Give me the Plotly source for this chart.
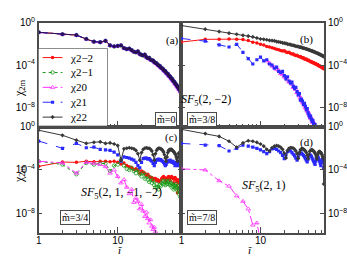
import plotly.graph_objects as go

W, H = 347, 257

# ---------------- data: log10(chi_2m) versus i = 1, 2, 3, ... ----------------
# panel (a), m~=0 : all components coincide
a_all = [-0.92,-1.10,-1.18,-1.55,-1.80,-1.85,-1.72,-2.15,-2.25,-2.20,-2.15,-2.40,-2.50,-2.45,-2.60,-2.75,
         -2.80,-2.72,-2.95,-3.05,-3.10,-3.02,-3.25,-3.35,-3.33,-3.50,-3.55,-3.58,-3.72,-3.80,-3.84,-3.97,
         -4.05,-4.08,-4.22,-4.30,-4.33,-4.47,-4.55,-4.58,-4.72,-4.80,-4.83,-4.97,-5.05,-5.08,-5.22,-5.30,
         -5.33,-5.47,-5.55,-5.58,-5.72,-5.80,-5.83,-5.97,-6.05,-6.08,-6.22,-6.30,-6.33,-6.47,-6.55]

# panel (b), m~=3/8, SF5(2,-2)
b_m2 = [-1.83,-1.58,-1.57,-1.55,-1.56,-1.60,-1.70,-1.85,-1.92,-2.05,-2.12,-2.25,-2.30,-2.38,-2.45,-2.52,
        -2.55,-2.62,-2.68,-2.66,-2.78,-2.82,-2.80,-2.92,-2.97,-2.95,-3.06,-3.10,-3.08,-3.18,-3.22,-3.20,
        -3.30,-3.34,-3.32,-3.42,-3.46,-3.44,-3.53,-3.57,-3.55,-3.64,-3.68,-3.66,-3.75,-3.78,-3.76,-3.85,
        -3.88,-3.86,-3.95,-3.98,-3.96,-4.05,-4.08,-4.06,-4.14,-4.17,-4.15,-4.24,-4.27,-4.25,-4.34]
b_p1 = [-1.50,-1.75,-2.10,-2.30,-2.05,-2.80,-3.40,-3.90,-3.50,-3.25,-3.60,-3.50,-3.90,-4.00,-4.30,-4.20,
        -4.60,-4.70,-4.60,-5.00,-5.30,-5.10,-5.50,-5.70,-5.60,-6.00,-6.20,-6.10,-6.50,-6.80,-6.70,-7.30,
        -7.20,-7.40,-7.70,-7.60,-7.90,-8.20,-8.10,-8.50,-8.70,-8.90,-8.80,-9.10,-9.30,-9.20,-9.50,-9.70,
        -9.60,-9.90,-10.10]
b_p2 = [-0.28,-0.62,-0.85,-1.00,-1.10,-1.20,-1.27,-1.35,-1.45,-1.55,-1.58,-1.62,-1.68,-1.70,-1.72,-1.79,
        -1.82,-1.85,-1.91,-1.94,-1.96,-2.03,-2.05,-2.07,-2.13,-2.15,-2.17,-2.23,-2.24,-2.26,-2.31,-2.32,
        -2.34,-2.39,-2.40,-2.42,-2.47,-2.48,-2.51,-2.55,-2.57,-2.59,-2.63,-2.66,-2.67,-2.72,-2.74,-2.75,
        -2.81,-2.82,-2.84,-2.89,-2.90,-2.93,-2.97,-2.99,-3.01,-3.05,-3.08,-3.09,-3.14,-3.16,-3.20]
b_0_start = 12
b_0 = [-3.60,-3.80,-4.10,-4.20,-4.40,-4.50,-4.80,-4.90,-5.10,-5.20,-5.40,-5.60,-5.60,-5.80,-6.10,-6.10,
       -6.30,-6.60,-6.60,-6.90,-7.10,-7.30,-7.50,-7.60,-7.80,-8.00,-8.10,-8.30,-8.40,-8.60,-8.80,-9.00,
       -9.00,-9.20,-9.40,-9.40,-9.60,-9.80,-10.00]

# panel (c), m~=3/4, SF5(2,1,-1,-2)
c_m2 = [-3.67,-3.27,-3.30,-3.20,-3.25,-3.20,-3.20,-3.25,-3.20,-3.30,-3.45,-3.35,-3.60,-3.70,-3.80,-3.95,
        -3.90,-4.00,-4.30,-4.10,-4.20,-4.30,-4.50,-4.40,-4.60,-4.70,-4.70,-4.90,-4.80,-4.80,-5.00,-4.90,
        -5.10,-5.00,-5.00,-4.80,-4.70,-4.60,-4.70,-4.90,-5.10,-4.80,-4.70,-4.60,-4.80,-5.00,-4.70,-4.60,
        -4.70,-4.80,-5.20,-4.80,-4.70,-4.80,-4.90,-5.10,-6.10,-4.90,-5.00,-5.20,-5.70,-5.30,-6.00]
c_m1 = [-3.20,-3.50,-4.40,-3.35,-3.50,-3.40,-3.40,-4.10,-3.60,-3.50,-3.05,-3.60,-3.90,-4.00,-3.80,-4.10,
        -4.30,-4.00,-4.40,-4.60,-4.30,-4.80,-4.50,-4.90,-5.10,-4.70,-5.20,-5.00,-5.40,-5.60,-5.30,-5.60,
        -5.80,-5.40,-5.50,-5.20,-5.00,-5.30,-5.10,-5.40,-5.00,-5.30,-5.10,-5.30,-5.00,-5.40,-5.20,-5.60,
        -5.30,-5.50,-5.80,-5.40,-5.50,-5.70,-5.30,-5.60,-5.90,-5.50,-6.20,-5.70,-6.00,-6.50,-5.80]
c_0 = [-3.20,-3.35,-4.30,-3.30,-3.40,-3.50,-3.70,-4.30,-4.00,-4.60,-5.20,-4.90,-5.60,-6.20,-5.80,-7.00,
       -6.60,-6.90,-7.60,-7.20,-7.80,-8.30,-7.90,-8.50,-8.90,-8.60,-9.20,-9.50,-9.30,-9.70,-10.20]
c_p1 = [-1.33,-2.00,-1.55,-1.95,-1.90,-2.10,-2.15,-2.20,-2.35,-2.60,-3.20,-2.80,-2.85,-2.90,-3.00,-3.10,
        -3.30,-3.60,-3.80,-3.30,-2.95,-2.90,-2.90,-3.00,-2.95,-3.10,-3.20,-3.40,-3.60,-3.30,-3.10,-3.05,
        -3.00,-3.10,-3.05,-3.15,-3.20,-3.30,-3.45,-3.60,-3.50,-3.30,-3.20,-3.15,-3.20,-3.10,-3.25,-3.20,
        -3.30,-3.20,-3.35,-3.40,-3.60,-3.50,-3.30,-3.40,-3.60,-3.30,-3.25,-3.20,-3.30,-3.20,-3.25]
c_p2 = [-0.33,-0.80,-1.25,-1.55,-1.45,-1.40,-1.55,-1.50,-1.60,-1.75,-3.10,-2.05,-2.00,-1.95,-2.00,-2.05,
        -2.20,-2.50,-3.10,-2.40,-2.10,-2.00,-1.95,-2.00,-2.00,-2.10,-2.25,-2.60,-3.10,-2.50,-2.20,-2.05,
        -2.00,-2.00,-2.05,-2.10,-2.20,-2.35,-2.60,-2.90,-3.20,-2.80,-2.40,-2.20,-2.15,-2.10,-2.15,-2.10,
        -2.20,-2.25,-2.30,-2.40,-2.50,-2.60,-2.80,-3.00,-3.20,-2.80,-2.50,-2.40,-2.40,-2.50,-2.60]

# panel (d), m~=7/8, SF5(2,1)
d_0 = [-3.90,-4.00,-5.00,-5.50,-6.40,-6.90,-7.60,-9.10,-8.90,-10.50]
d_p1 = [-1.55,-1.70,-1.75,-2.25,-2.00,-1.70,-1.80,-1.90,-2.00,-2.15,-2.30,-2.50,-2.30,-2.05,-2.00,-2.10,
        -2.25,-2.40,-2.65,-2.95,-2.60,-2.30,-2.20,-2.25,-2.40,-2.55,-2.70,-2.90,-3.10,-2.85,-2.55,-2.45,
        -2.45,-2.55,-2.65,-2.80,-2.95,-3.10,-3.25,-3.00,-2.70,-2.60,-2.65,-2.75,-2.90,-3.05,-3.20,-3.35,
        -3.50,-3.20,-2.90,-2.80,-2.80,-2.90,-3.05,-3.20,-3.40,-3.60,-3.30,-3.10,-3.00,-3.20,-3.80]
d_p2 = [-0.25,-0.64,-0.90,-1.35,-1.90,-1.50,-1.30,-1.35,-1.45,-1.60,-1.80,-2.10,-2.25,-1.95,-1.80,-1.75,
        -1.80,-1.90,-2.10,-2.45,-2.90,-2.20,-2.00,-1.95,-1.95,-2.00,-2.10,-2.25,-2.50,-2.95,-2.40,-2.15,
        -2.05,-2.05,-2.10,-2.15,-2.25,-2.40,-2.65,-2.95,-2.60,-2.30,-2.20,-2.15,-2.15,-2.20,-2.25,-2.35,
        -2.45,-2.60,-2.80,-3.00,-2.60,-2.40,-2.30,-2.30,-2.35,-2.40,-2.50,-2.60,-2.75,-2.90,-5.30]

series_names = ["χ2−2", "χ2−1", "χ20", "χ21", "χ22"]
series_colors = ["#ff1010", "#1a9a1a", "#ff30ff", "#2a2aff", "#383838"]
series_dash = ["solid", "dot", "dashdot", "dash", "solid"]
series_symbol = ["circle", "circle-open", "triangle-up-open", "square", "diamond"]
series_size = [3.5, 3.5, 4, 3.2, 3.2]
series_mline = [0, 0.8, 0.8, 0, 0]

panel_labels = ["(a)", "(b)", "(c)", "(d)"]
m_labels = ["m̃=0", "m̃=3/8", "m̃=3/4", "m̃=7/8"]
sf_labels = ["", "<i>SF</i><sub>5</sub>(2, −2)", "<i>SF</i><sub>5</sub>(2, 1, −1, −2)",
             "<i>SF</i><sub>5</sub>(2, 1)"]

x_tick_vals = [1, 10]
x_tick_text = ["1", "10"]
x_minor_vals = [2, 3, 4, 5, 6, 7, 8, 9, 20, 30, 40, 50, 60]
y_tick_vals = [1, 1e-4, 1e-8]
y_tick_text = ["10<sup>0</sup>", "10<sup>−4</sup>", "10<sup>−8</sup>"]

# panel -> list of (series index, first i, log10 values)
panels = [
    [(0, 1, a_all), (1, 1, a_all), (2, 1, a_all), (3, 1, a_all), (4, 1, a_all)],
    [(0, 1, b_m2), (2, b_0_start, b_0), (3, 1, b_p1), (4, 1, b_p2)],
    [(0, 1, c_m2), (1, 1, c_m1), (2, 1, c_0), (3, 1, c_p1), (4, 1, c_p2)],
    [(2, 1, d_0), (3, 1, d_p1), (4, 1, d_p2)],
]

# ---------------- layout geometry (pixels) ----------------
def px(x):
    return x / W

def py(y):
    return 1 - y / H

X_L, X_M, X_R = 36, 180, 324
Y_T, Y_M, Y_B = 16, 123, 232
x_dom = [[px(X_L), px(X_M)], [px(X_M), px(X_R)]]
y_dom = [[py(Y_M), py(Y_T)], [py(Y_B), py(Y_M)]]

SERIF = "Liberation Serif, DejaVu Serif, serif"
SANS = "Liberation Sans, Arial, sans-serif"
FRAME = "#4a4a4a"

fig = go.Figure()

for p, tr_list in enumerate(panels):
    ax = "" if p == 0 else str(p + 1)
    for s, start, vals in tr_list:
        xs = [start + k for k in range(len(vals))]
        ys = [10 ** v for v in vals]
        col = series_colors[s]
        if p == 0 and s == 4:
            col = "#2a1050"  # blended dark indigo where all curves coincide
        fig.add_trace(go.Scatter(
            x=xs, y=ys, xaxis="x" + ax, yaxis="y" + ax, mode="lines+markers",
            showlegend=False, name=series_names[s],
            line=dict(color=col, width=1, dash=series_dash[s]),
            marker=dict(symbol=series_symbol[s], size=series_size[s], color=col,
                        line=dict(width=series_mline[s], color=col)),
        ))

layout = dict(width=W, height=H, autosize=False, margin=dict(l=0, r=0, t=0, b=0),
              paper_bgcolor="white", plot_bgcolor="white", showlegend=False)

for p in range(4):
    col, row = p % 2, p // 2
    ax = "" if p == 0 else str(p + 1)
    layout["xaxis" + ax] = dict(
        type="log", range=[0, 1.806], domain=x_dom[col], anchor="y" + ax,
        showline=True, linecolor=FRAME, linewidth=1.5, mirror=True,
        ticks="inside", ticklen=6, tickwidth=1, tickcolor=FRAME,
        tickmode="array", tickvals=x_tick_vals,
        ticktext=x_tick_text if row == 1 else ["", ""],
        showticklabels=(row == 1), ticklabelstandoff=-2,
        minor=dict(tickmode="array", tickvals=x_minor_vals, ticks="inside", ticklen=3,
                   tickcolor=FRAME, tickwidth=1),
        showgrid=False, zeroline=False,
        tickfont=dict(family=SANS, size=10, color="black"),
    )
    layout["yaxis" + ax] = dict(
        type="log", range=[-9.8, 0], domain=y_dom[row], anchor="x" + ax,
        side="left" if col == 0 else "right",
        showline=True, linecolor=FRAME, linewidth=1.5, mirror="ticks",
        ticks="inside", ticklen=4, tickwidth=1, tickcolor=FRAME,
        tickmode="array", tickvals=y_tick_vals, ticktext=y_tick_text,
        showgrid=False, zeroline=False,
        tickfont=dict(family=SANS, size=10, color="black"),
    )

annotations = []
shapes = []
lab_pos = [(171, 26), (315, 25), (170, 134), (315, 139)]
for p in range(4):
    annotations.append(dict(text=panel_labels[p], x=px(lab_pos[p][0]), y=py(lab_pos[p][1]),
                            xref="paper", yref="paper", showarrow=False,
                            font=dict(family=SERIF, size=11, color="black")))
m_pos = [(164.5, 115.5), (201, 115.5), (57, 224.5), (201, 224.5)]
for p in range(4):
    annotations.append(dict(text=m_labels[p], x=px(m_pos[p][0]), y=py(m_pos[p][1]),
                            xref="paper", yref="paper", showarrow=False,
                            bordercolor=FRAME, borderwidth=1, borderpad=1, bgcolor="white",
                            font=dict(family=SERIF, size=10, color="black")))
sf_pos = [(0, 0), (232, 85), (77, 202), (287, 194)]
for p in range(1, 4):
    annotations.append(dict(text=sf_labels[p], x=px(sf_pos[p][0]), y=py(sf_pos[p][1]),
                            xref="paper", yref="paper", showarrow=False,
                            font=dict(family=SERIF, size=12, color="black")))
# axis titles
for yy in (72, 183):
    annotations.append(dict(text="χ<sub>2m</sub>", x=px(7), y=py(yy), xref="paper", yref="paper",
                            showarrow=False, textangle=-90,
                            font=dict(family=SERIF, size=12, color="black")))
for xx in (115, 253):
    annotations.append(dict(text="<i>ĩ</i>", x=px(xx), y=py(256.5), xref="paper", yref="paper",
                            yanchor="bottom", showarrow=False, borderpad=0, height=10,
                            valign="bottom",
                            font=dict(family=SERIF, size=11, color="black")))

# ---------------- legend (drawn in its own small axes) ----------------
LEG = (36, 105, 43, 122)
shapes.append(dict(type="rect", xref="paper", yref="paper", x0=px(LEG[0]), x1=px(LEG[1]),
                   y0=py(LEG[3]), y1=py(LEG[2]), line=dict(color=FRAME, width=1.2),
                   fillcolor="white", layer="below"))
layout["xaxis5"] = dict(domain=[px(LEG[0]), px(LEG[1])], range=[0, LEG[1] - LEG[0]], visible=False,
                        anchor="y5", fixedrange=True)
layout["yaxis5"] = dict(domain=[py(LEG[3]), py(LEG[2])], range=[LEG[3] - LEG[2], 0], visible=False,
                        anchor="x5", fixedrange=True)
for s in range(5):
    yc = 9 + 15.3 * s
    fig.add_trace(go.Scatter(x=[4, 24], y=[yc, yc], xaxis="x5", yaxis="y5", mode="lines",
                             showlegend=False, hoverinfo="skip",
                             line=dict(color=series_colors[s], width=1, dash=series_dash[s])))
    fig.add_trace(go.Scatter(x=[14], y=[yc], xaxis="x5", yaxis="y5", mode="markers",
                             showlegend=False, hoverinfo="skip",
                             marker=dict(symbol=series_symbol[s], size=series_size[s],
                                         color=series_colors[s],
                                         line=dict(width=series_mline[s], color=series_colors[s]))))
    annotations.append(dict(text=series_names[s], x=30, y=yc, xref="x5", yref="y5",
                            xanchor="left", showarrow=False,
                            font=dict(family=SERIF, size=11, color="black")))

layout["annotations"] = annotations
layout["shapes"] = shapes
fig.update_layout(**layout)
fig.write_html("out.html", config={"displayModeBar": False},
               post_script="document.body.style.margin='0';document.body.style.padding='0';")
